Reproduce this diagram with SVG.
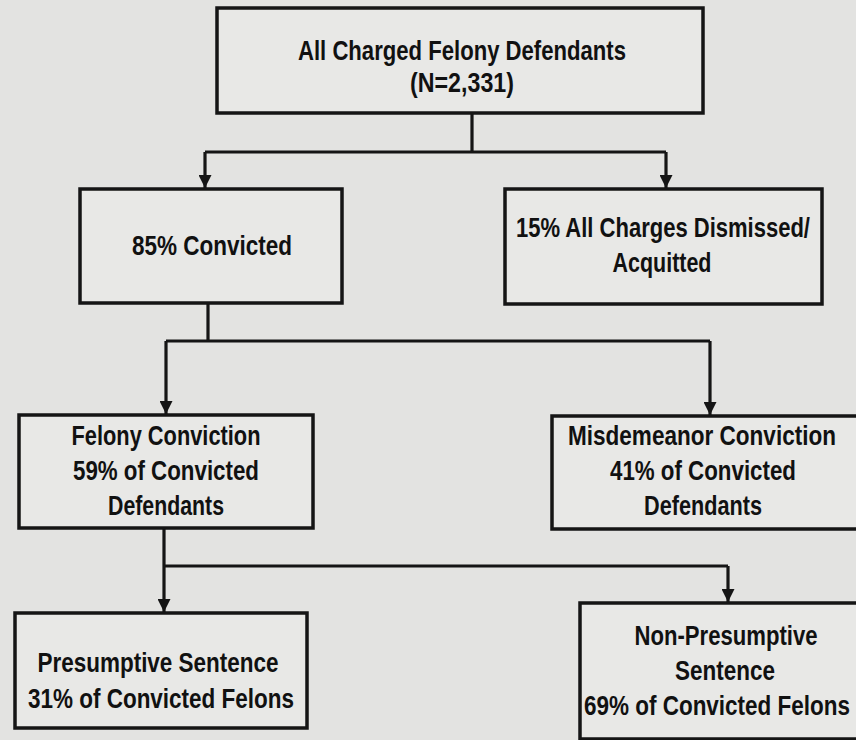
<svg xmlns="http://www.w3.org/2000/svg" width="856" height="740" viewBox="0 0 856 740">
<defs>
<style>
.box{fill:#e8e8e6;stroke:#151515;stroke-width:3.5}
.con{fill:none;stroke:#151515;stroke-width:3.2}
text{font-family:"Liberation Sans Narrow","Liberation Sans",Arial,sans-serif;font-weight:bold;font-size:27.5px;fill:#111;text-anchor:middle}
</style>
<marker id="ah" markerUnits="userSpaceOnUse" markerWidth="13" markerHeight="13" refX="12" refY="6" orient="auto" viewBox="0 0 12 12">
<path d="M0,0 L12,6 L0,12 Z" fill="#151515"/>
</marker>
</defs>
<rect width="856" height="740" fill="#e3e3e1"/>
<g id="connectors">
<path class="con" d="M472 113 V152 M205 152 H666"/>
<path class="con" d="M205 152 V188" marker-end="url(#ah)"/>
<path class="con" d="M666 152 V188" marker-end="url(#ah)"/>
<path class="con" d="M208 303 V341 M166 341 H710"/>
<path class="con" d="M166 341 V414" marker-end="url(#ah)"/>
<path class="con" d="M710 341 V415" marker-end="url(#ah)"/>
<path class="con" d="M164 528 V566 M164 566 H728"/>
<path class="con" d="M164 566 V612" marker-end="url(#ah)"/>
<path class="con" d="M728 566 V602" marker-end="url(#ah)"/>
</g>
<g id="all-defendants">
<rect class="box" x="217" y="8" width="486" height="105"/>
<text x="462" y="60" textLength="328" lengthAdjust="spacingAndGlyphs">All Charged Felony Defendants</text>
<text x="462" y="92" textLength="104" lengthAdjust="spacingAndGlyphs">(N=2,331)</text>
</g>
<g id="convicted">
<rect class="box" x="80" y="189" width="262" height="114"/>
<text x="212" y="255" textLength="160" lengthAdjust="spacingAndGlyphs">85% Convicted</text>
</g>
<g id="dismissed">
<rect class="box" x="505" y="189" width="317" height="115"/>
<text x="663" y="237" textLength="294" lengthAdjust="spacingAndGlyphs">15% All Charges Dismissed/</text>
<text x="662" y="272" textLength="99" lengthAdjust="spacingAndGlyphs">Acquitted</text>
</g>
<g id="felony-conviction">
<rect class="box" x="19" y="415" width="294" height="113"/>
<text x="166" y="445" textLength="189" lengthAdjust="spacingAndGlyphs">Felony Conviction</text>
<text x="166" y="480" textLength="186" lengthAdjust="spacingAndGlyphs">59% of Convicted</text>
<text x="166" y="515" textLength="116" lengthAdjust="spacingAndGlyphs">Defendants</text>
</g>
<g id="misdemeanor-conviction">
<rect class="box" x="552" y="416" width="330" height="113"/>
<text x="702" y="445" textLength="268" lengthAdjust="spacingAndGlyphs">Misdemeanor Conviction</text>
<text x="703" y="480" textLength="186" lengthAdjust="spacingAndGlyphs">41% of Convicted</text>
<text x="703" y="515" textLength="118" lengthAdjust="spacingAndGlyphs">Defendants</text>
</g>
<g id="presumptive">
<rect class="box" x="15" y="613" width="292" height="115"/>
<text x="158" y="672" textLength="241" lengthAdjust="spacingAndGlyphs">Presumptive Sentence</text>
<text x="161" y="708" textLength="266" lengthAdjust="spacingAndGlyphs">31% of Convicted Felons</text>
</g>
<g id="non-presumptive">
<rect class="box" x="580" y="603" width="300" height="136"/>
<text x="726" y="645" textLength="183" lengthAdjust="spacingAndGlyphs">Non-Presumptive</text>
<text x="725" y="680" textLength="100" lengthAdjust="spacingAndGlyphs">Sentence</text>
<text x="717" y="715" textLength="266" lengthAdjust="spacingAndGlyphs">69% of Convicted Felons</text>
</g>
</svg>
